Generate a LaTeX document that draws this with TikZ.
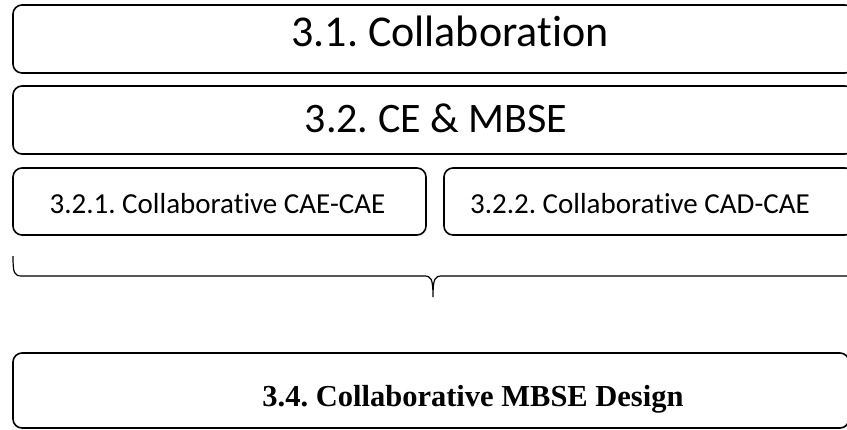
\documentclass[tikz,border=0pt]{standalone}
\usepackage{fontspec}
\newfontfamily\calibri[Ligatures=NoCommon]{Carlito}
\newfontfamily\timesbf{Liberation Serif}
\frenchspacing
\tikzset{
 caixa/.style={draw,line width=1.6pt,rounded corners=9pt,inner sep=0pt},
 titulo/.style={anchor=base,font=\calibri\fontsize{42}{46}\selectfont},
 subtitulo/.style={anchor=base,font=\calibri\fontsize{29}{33}\selectfont},
 destaque/.style={anchor=base,font=\timesbf\bfseries\fontsize{30.5}{34}\selectfont}
}
\begin{document}
\begin{tikzpicture}[x=1pt,y=-1pt]
%moldura da figura
 \useasboundingbox (0,0) rectangle (847,429);
 \clip (0,0) rectangle (847,429);
%caixas de cima
 \node[caixa,minimum width=841pt,minimum height=68pt] (colab) at (433.5,39) {};
 \node[titulo,font=\calibri\fontsize{44}{48}\selectfont] (colabtxt) at (450,46) {3.1. Collaboration};
 \node[caixa,minimum width=841pt,minimum height=68pt] (cembse) at (433.5,120) {};
 \node[titulo] (cembsetxt) at (436,132) {3.2. CE \& MBSE};
%duas caixas lado a lado
 \node[caixa,minimum width=413pt,minimum height=67pt] (caecae) at (219.5,201.5) {};
 \node[subtitulo] (caecaetxt) at (217.5,213) {3.2.1. Collaborative CAE-CAE};
 \node[caixa,minimum width=410pt,minimum height=67pt] (cadcae) at (649,201.5) {};
 \node[subtitulo] (cadcaetxt) at (640,213) {3.2.2. Collaborative CAD-CAE};
%chave por baixo (desenhada a mao)
 \coordinate (chaveA) at (13,256);
 \coordinate (chaveM) at (433,297);
 \coordinate (chaveB) at (854,256);
 \draw[line width=1.2pt] (chaveA) .. controls (13,273) and (14,276) .. (22,276) -- (424,276)
  .. controls (431,276) and (433,278) .. (chaveM)
  .. controls (433,278) and (435,276) .. (442,276) -- (845,276)
  .. controls (853,276) and (854,273) .. (chaveB);
%caixa final
 \node[caixa,minimum width=836pt,minimum height=75pt] (design) at (431,390.5) {};
 \node[destaque] (designtxt) at (473,406) {3.4. Collaborative MBSE Design};
\end{tikzpicture}
\end{document}
